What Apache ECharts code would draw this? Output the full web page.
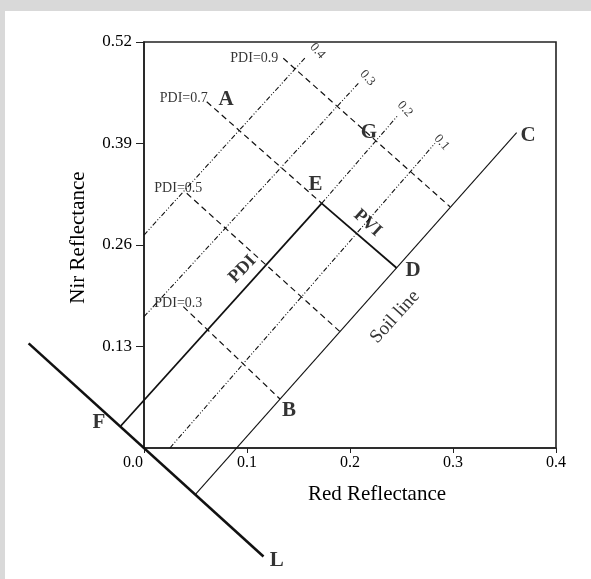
<!DOCTYPE html>
<html>
<head>
<meta charset="utf-8">
<script src="https://cdn.jsdelivr.net/npm/echarts@6/dist/echarts.min.js"></script>
<style>
html,body{margin:0;padding:0;width:591px;height:579px;background:#d9d9d9;overflow:hidden;}
#chart{position:absolute;left:5px;top:11px;width:586px;height:568px;background:#ffffff;}
</style>
</head>
<body>
<div id="chart"></div>
<script>
// ---- data (Red reflectance, NIR reflectance) ----
const xTicks = [0, 0.1, 0.2, 0.3, 0.4];
const yTicks = [0, 0.13, 0.26, 0.39, 0.52];

const lineL    = [[-0.112, 0.134], [0.116, -0.139]];
const soilLine = [[0.0495, -0.060], [0.3618, 0.404]];
const pdiLine  = [[-0.0226, 0.0282], [0.1725, 0.3134]];   // F -> E
const pviLine  = [[0.1725, 0.3134], [0.2453, 0.2306]];    // E -> D

// iso-lines parallel to soil line (dash-dot)
const iso01 = [[0.0252, 0], [0.2825, 0.3902]];
const iso02 = [[0.1725, 0.3134], [0.2469, 0.4265]];
const iso03 = [[0, 0.1682], [0.2081, 0.4671]];
const iso04 = [[0, 0.2728], [0.1563, 0.4995]];

// PDI iso-lines (dashed)
const pdi09 = [[0.1352, 0.4991], [0.2971, 0.3090]];
const pdi07 = [[0.0609, 0.4435], [0.1725, 0.3134]];
const pdi05 = [[0.0415, 0.3262], [0.1903, 0.1490]];
const pdi03 = [[0.0382, 0.1810], [0.1320, 0.0628]];

// point letters
const letterNames = ['A', 'B', 'C', 'D', 'E', 'F', 'G', 'L'];
const letterPos = [[0.0796, 0.4463], [0.1408, 0.0480], [0.3728, 0.3996], [0.2612, 0.2271],
                   [0.1665, 0.3368], [-0.0437, 0.0320], [0.2184, 0.4034], [0.1288, -0.1441]];
// PDI value labels
const pdiLabelNames = ['PDI=0.9', 'PDI=0.7', 'PDI=0.5', 'PDI=0.3'];
const pdiLabelPos = [[0.1071, 0.4995], [0.0386, 0.4479], [0.0333, 0.3326], [0.0333, 0.1853]];
// iso-line value labels
const isoLabelNames = ['0.4', '0.3', '0.2', '0.1'];
const isoLabelPos = [[0.1684, 0.5085], [0.2170, 0.4739], [0.2534, 0.4342], [0.2890, 0.3913]];
// line names
const lineNames = ['PDI', 'PVI', 'Soil line'];
const lineNamePos = [[0.0956, 0.2290], [0.2170, 0.2882], [0.2437, 0.1678]];

// ---- styles ----
const FONT = 'Liberation Serif';
const INK = '#000';
const lineNameRot = [46, -42, 48];
const lineNameWeight = ['bold', 'bold', 'normal'];
const lineNameSize = [18, 18, 19];

function segSeries(pts, width, type) {
  return {
    type: 'lines', coordinateSystem: 'cartesian2d', polyline: true, clip: false, silent: true,
    data: [{ coords: pts }],
    lineStyle: { color: '#111', width: width, type: type, opacity: 1 }
  };
}
function labelSeries(names, pos, styleFn) {
  return {
    type: 'scatter', clip: false, silent: true, symbolSize: 1,
    itemStyle: { color: 'rgba(0,0,0,0)' },
    data: names.map((n, i) => ({
      value: pos[i], name: n,
      label: Object.assign({ show: true, position: 'inside', formatter: n,
        fontFamily: FONT, color: INK }, styleFn(i))
    }))
  };
}

const dashDot = [5, 2, 1, 2, 1, 2];
const dashed = [6, 4];

const chart = echarts.init(document.getElementById('chart'));
chart.setOption({
  animation: false,
  grid: { left: 139, right: 35, top: 31, bottom: 131, show: true,
          borderColor: '#222', borderWidth: 1.6, backgroundColor: 'transparent' },
  xAxis: {
    type: 'value', min: xTicks[0], max: xTicks[xTicks.length - 1], interval: 0.1,
    name: 'Red Reflectance', nameLocation: 'middle', nameGap: 36,
    nameTextStyle: { fontFamily: FONT, fontSize: 21, color: INK, padding: [0, 0, 0, 54] },
    axisLine: { lineStyle: { color: '#222', width: 1.6 } },
    axisTick: { show: true, length: 5, lineStyle: { color: '#222' } },
    splitLine: { show: false },
    axisLabel: {
      margin: 7, fontFamily: FONT, fontSize: 16, color: INK,
      formatter: v => v === 0 ? '{z|0.0}' : v.toFixed(1),
      rich: { z: { fontFamily: FONT, fontSize: 16, color: INK, padding: [0, 22, 0, 0] } }
    }
  },
  yAxis: {
    type: 'value', min: yTicks[0], max: yTicks[yTicks.length - 1], interval: 0.13,
    name: 'Nir Reflectance', nameLocation: 'middle', nameGap: 55,
    nameTextStyle: { fontFamily: FONT, fontSize: 21, color: INK, padding: [0, 0, 0, 15] },
    axisLine: { lineStyle: { color: '#222', width: 1.6 } },
    axisTick: { show: true, length: 8, lineStyle: { color: '#222' } },
    splitLine: { show: false },
    axisLabel: { margin: 12, fontFamily: FONT, fontSize: 17, color: INK, showMinLabel: false,
                 formatter: v => v.toFixed(2) }
  },
  series: [
    segSeries(lineL, 2.6, 'solid'),
    segSeries(soilLine, 1.1, 'solid'),
    segSeries(pdiLine, 1.8, 'solid'),
    segSeries(pviLine, 1.8, 'solid'),
    segSeries(iso01, 1.1, dashDot),
    segSeries(iso02, 1.1, dashDot),
    segSeries(iso03, 1.1, dashDot),
    segSeries(iso04, 1.1, dashDot),
    segSeries(pdi09, 1.2, dashed),
    segSeries(pdi07, 1.2, dashed),
    segSeries(pdi05, 1.2, dashed),
    segSeries(pdi03, 1.2, dashed),
    labelSeries(letterNames, letterPos, i => ({ fontSize: 21, fontWeight: 'bold' })),
    labelSeries(pdiLabelNames, pdiLabelPos, i => ({ fontSize: 14 })),
    labelSeries(isoLabelNames, isoLabelPos, i => ({ fontSize: 13, rotate: -48 })),
    labelSeries(lineNames, lineNamePos, i => ({ fontSize: lineNameSize[i],
      fontWeight: lineNameWeight[i], rotate: lineNameRot[i] }))
  ]
});
</script>
</body>
</html>
